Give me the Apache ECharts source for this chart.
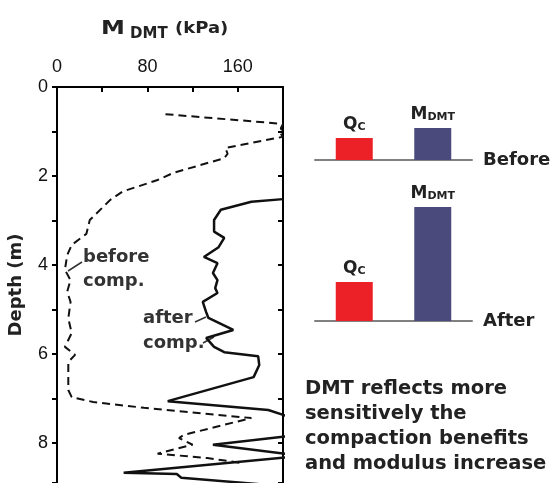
<!DOCTYPE html>
<html>
<head>
    <meta charset="UTF-8"/>
    <title>MDMT before / after compaction</title>
    <style>
        html, body { margin: 0; padding: 0; background: #fff; }
        #main { width: 554px; height: 483px; }
    </style>
</head>
<body>
<div id="main"></div>
<script src="https://cdn.jsdelivr.net/npm/echarts@6/dist/echarts.min.js" type="text/javascript"></script>
<script type="text/javascript">
    // profile data: [M_DMT (kPa), depth (m)]
    const beforeComp = [
        [96, 0.61], [200, 0.83], [198, 0.93], [200, 1.0], [198, 1.05], [200, 1.12],
        [149, 1.37], [151, 1.5], [148, 1.6], [103, 1.93], [89, 2.09], [58, 2.35],
        [47, 2.54], [29, 2.99], [26, 3.3], [13, 3.55], [9, 3.78], [7, 4.11],
        [12, 4.34], [9, 4.6], [12, 4.83], [10, 5.2], [13, 5.53], [7, 5.84],
        [16, 6.02], [10, 6.18], [10, 6.81], [13, 6.97], [32, 7.08], [77, 7.21],
        [172, 7.44], [112, 7.82], [108, 7.89], [120, 8.04], [89, 8.24], [133, 8.34],
        [163, 8.45]
    ];
    const afterComp = [
        [200, 2.52], [172, 2.58], [145, 2.76], [139, 2.99], [139, 3.25], [148, 3.39],
        [143, 3.6], [130, 3.82], [142, 3.96], [138, 4.18], [142, 4.34], [140, 4.52],
        [142, 4.63], [129, 4.83], [132, 5.06], [134, 5.19], [156, 5.46], [132, 5.64],
        [139, 5.84], [148, 5.96], [178, 6.05], [179, 6.25], [174, 6.52], [98, 7.06],
        [187, 7.26], [204, 7.4], [204, 7.85], [138, 8.04], [204, 8.25], [204, 8.32],
        [59, 8.67], [106, 8.7], [110, 8.78], [204, 8.98]
    ];
    const xTickLabels = [0, 80, 160];
    const yTickLabels = [0, 2, 4, 6, 8];

    // bar sketch (relative heights)
    const barCategories = ["Qc", "MDMT"];
    const beforeBars = [22, 32];
    const afterBars = [39, 114];

    const txt = "#222";
    const font = "DejaVu Sans";

    const chart = echarts.init(document.getElementById("main"), null, {renderer: "canvas"});

    const barLabel = {
        show: true,
        position: "top",
        distance: 5,
        formatter: function (p) {
            return p.name === "Qc" ? "{b|Q}{s|C}" : "{b|M}{s|DMT}";
        },
        rich: {
            b: {fontFamily: font, fontWeight: "bold", fontSize: 17, color: txt, verticalAlign: "bottom", lineHeight: 19},
            s: {fontFamily: font, fontWeight: "bold", fontSize: 11, color: txt, verticalAlign: "bottom", lineHeight: 15}
        }
    };

    function barXAxis(idx, name, pad) {
        return {
            type: "category",
            gridIndex: idx,
            data: barCategories,
            axisLine: {lineStyle: {color: "#808080", width: 2}},
            axisTick: {show: false},
            axisLabel: {show: false},
            name: name,
            nameLocation: "end",
            nameGap: 11,
            nameTextStyle: {
                fontFamily: font, fontWeight: "bold", fontSize: 18, color: txt,
                verticalAlign: "middle", padding: pad
            }
        };
    }

    const option = {
        animation: false,
        textStyle: {fontFamily: font},
        grid: [
            {left: 57, top: 87, right: 271, bottom: 0},
            {left: 315, top: 100, width: 157, height: 60},
            {left: 315, top: 200, width: 157, height: 121}
        ],
        xAxis: [
            {
                type: "value",
                gridIndex: 0,
                position: "top",
                min: 0,
                max: 200,
                interval: 40,
                axisLine: {show: true, onZero: false, lineStyle: {color: "#000", width: 2}},
                axisTick: {show: true, inside: true, length: 5, lineStyle: {color: "#000", width: 2}},
                axisLabel: {
                    margin: 11,
                    fontFamily: "Liberation Sans",
                    fontSize: 18,
                    color: "#111",
                    formatter: function (v) {
                        return xTickLabels.indexOf(v) >= 0 ? String(v) : "";
                    }
                },
                splitLine: {show: false}
            },
            barXAxis(1, "Before", [0, 0, 0, 0]),
            barXAxis(2, "After", [0, 0, 6, 0])
        ],
        yAxis: [
            {
                type: "value",
                gridIndex: 0,
                position: "left",
                inverse: true,
                min: 0,
                max: 8.9,
                interval: 1,
                axisLine: {show: true, onZero: false, lineStyle: {color: "#000", width: 2}},
                axisTick: {show: true, length: 5, lineStyle: {color: "#000", width: 2}},
                axisLabel: {
                    margin: 9,
                    fontFamily: "Liberation Sans",
                    fontSize: 18,
                    color: "#111",
                    formatter: function (v) {
                        return yTickLabels.indexOf(v) >= 0 ? String(v) : "";
                    }
                },
                splitLine: {show: false},
                name: "Depth (m)",
                nameLocation: "middle",
                nameRotate: 90,
                nameGap: 32,
                nameTextStyle: {fontFamily: font, fontWeight: "bold", fontSize: 18, color: txt}
            },
            {
                type: "value",
                gridIndex: 0,
                position: "right",
                inverse: true,
                min: 0,
                max: 8.9,
                interval: 1,
                axisLine: {show: true, onZero: false, lineStyle: {color: "#000", width: 2}},
                axisTick: {show: true, inside: true, length: 5, lineStyle: {color: "#000", width: 2}},
                axisLabel: {show: false},
                splitLine: {show: false}
            },
            {type: "value", gridIndex: 1, min: 0, max: 60, show: false},
            {type: "value", gridIndex: 2, min: 0, max: 121, show: false}
        ],
        series: [
            {
                name: "before comp.",
                type: "line",
                xAxisIndex: 0,
                yAxisIndex: 0,
                data: beforeComp,
                symbol: "none",
                clip: true,
                lineStyle: {color: "#111", width: 2, type: [8, 5]}
            },
            {
                name: "after comp.",
                type: "line",
                xAxisIndex: 0,
                yAxisIndex: 0,
                data: afterComp,
                symbol: "none",
                clip: true,
                lineStyle: {color: "#111", width: 2.5}
            },
            {
                type: "bar",
                xAxisIndex: 1,
                yAxisIndex: 2,
                barWidth: 37,
                data: [
                    {value: beforeBars[0], itemStyle: {color: "#ec2027"}},
                    {value: beforeBars[1], itemStyle: {color: "#4b4a7c"}}
                ],
                label: barLabel
            },
            {
                type: "bar",
                xAxisIndex: 2,
                yAxisIndex: 3,
                barWidth: 37,
                data: [
                    {value: afterBars[0], itemStyle: {color: "#ec2027"}},
                    {value: afterBars[1], itemStyle: {color: "#4b4a7c"}}
                ],
                label: barLabel
            }
        ],
        graphic: [
            // axis title  M DMT (kPa)
            {type: "text", x: 101, y: 19, scaleX: 1.2, style: {text: "M", font: "bold 20px " + font, fill: txt}},
            {type: "text", x: 130, y: 27, style: {text: "DMT", font: "bold 15px " + font, fill: txt}},
            {type: "text", x: 175, y: 22, scaleX: 1.2, style: {text: "(kPa)", font: "bold 15px " + font, fill: txt}},
            // curve annotations
            {type: "text", left: 83, top: 248, style: {text: "before", font: "bold 18px " + font, fill: "#333"}},
            {type: "text", left: 83, top: 272, style: {text: "comp.", font: "bold 18px " + font, fill: "#333"}},
            {type: "text", left: 143, top: 309, style: {text: "after", font: "bold 18px " + font, fill: "#333"}},
            {type: "text", left: 143, top: 334, style: {text: "comp.", font: "bold 18px " + font, fill: "#333"}},
            {type: "polyline", shape: {points: [[82, 262], [68, 271]]}, style: {stroke: "#333", lineWidth: 1.5}},
            {type: "polyline", shape: {points: [[195, 322], [206, 317]]}, style: {stroke: "#333", lineWidth: 1.5}},
            {type: "polyline", shape: {points: [[203, 343], [214, 337]]}, style: {stroke: "#333", lineWidth: 1.5}},
            // note
            {
                type: "text", left: 305, top: 376,
                style: {
                    text: "DMT reflects more\nsensitively the\ncompaction benefits\nand modulus increase",
                    font: "bold 19.5px " + font,
                    lineHeight: 25,
                    fill: txt
                }
            }
        ]
    };
    chart.setOption(option);
</script>
</body>
</html>
